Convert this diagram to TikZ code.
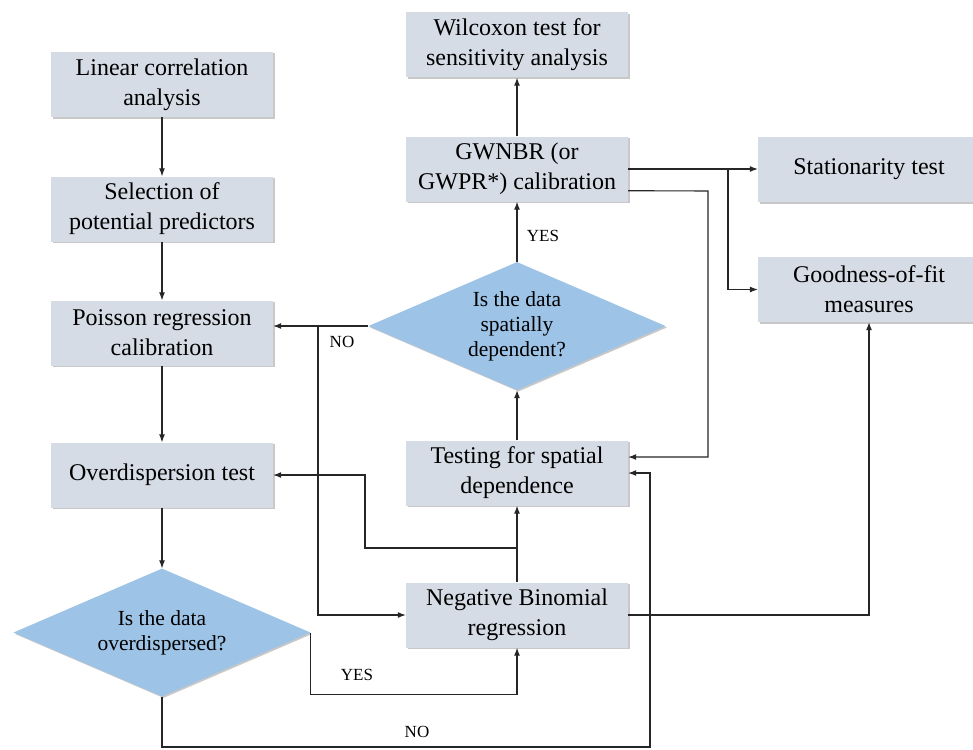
\documentclass[tikz,border=0pt]{standalone}
\usepackage{fontspec}
\setmainfont{Liberation Serif}
\usetikzlibrary{arrows.meta,shapes.geometric,shadows,calc}
\definecolor{boxfill}{HTML}{D6DCE5}
\definecolor{diafill}{HTML}{9DC3E6}
\begin{document}
\begin{tikzpicture}[x=1pt,y=-1pt,
  shad/.style={drop shadow={shadow xshift=1.5pt,shadow yshift=-1.5pt,opacity=0.3,fill=black!70}},
  box/.style={fill=boxfill,minimum width=222pt,minimum height=65pt,inner sep=0pt,
    align=center,font=\fontsize{24}{30}\selectfont,shad},
  dia/.style={diamond,aspect=2.32,fill=diafill,minimum width=297pt,minimum height=128pt,
    inner sep=0pt,align=center,font=\fontsize{21.5}{25}\selectfont,shad},
  conn/.style={line width=1.1pt,draw=black!85},
  arr/.style={conn,-{Latex[length=8pt,width=6pt]}},
  lbl/.style={font=\fontsize{17}{20}\selectfont,inner sep=0pt}]
\useasboundingbox (0,0) rectangle (973,749);
\fill[white] (0,0) rectangle (973,749);

% left column
\node[box] (lin) at (162,84.5) {Linear correlation\\analysis};
\node[box] (sel) at (162,209) {Selection of\\potential predictors};
\node[box] (poi) at (162,333) {Poisson regression\\calibration};
\node[box] (ovt) at (162,475) {Overdispersion test};
\node[dia] (ovd) at (162,632.5) {Is the data\\overdispersed?};

% middle column
\node[box] (wil) at (517,45) {Wilcoxon test for\\sensitivity analysis};
\node[box] (gwn) at (517,169) {GWNBR (or\\GWPR*) calibration};
\node[dia] (spd) at (517,326) {Is the data\\spatially\\dependent?};
\node[box] (tst) at (517,473) {Testing for spatial\\dependence};
\node[box] (nbr) at (517,615) {Negative Binomial\\regression};

% right column
\node[box] (sta) at (869,169.5) {Stationarity test};
\node[box] (gof) at (869,289.5) {Goodness-of-fit\\measures};

% connectors
\draw[arr] (lin) -- (sel);
\draw[arr] (sel) -- (poi);
\draw[arr] (poi) -- (ovt);
\draw[arr] (ovt) -- (ovd);
\draw[arr] (gwn) -- (wil);
\draw[arr] (spd) -- (gwn);
\node[lbl] (yes1) at (543,236) {YES};
\draw[arr] (tst) -- (spd);
\draw[arr] (nbr) -- (tst);

\coordinate (j1) at (517,548);
\draw[arr] (j1) -- (365,548) |- (ovt.east);

\draw[arr] (spd.west) -- (poi.east |- spd.west);
\node[lbl] (no1) at (342,342) {NO};
\coordinate (j2) at (318,326);
\draw[arr] (j2) |- (nbr.west);

\draw[arr] (ovd.east) -- ++(0,62) -| (nbr.south);
\node[lbl] (yes2) at (357,675) {YES};

\draw[arr] (ovd.south) |- (650,747) |- (tst.east);
\node[lbl] (no2) at (417,732) {NO};

\draw[arr] ($(gwn.south east)+(0,-11)$) -- (708,191) |- ($(tst.east)+(0,-16)$);

\draw[arr] (gwn.east) -- (sta.west |- gwn.east);
\coordinate (j3) at (728,169);
\draw[arr] (j3) |- (gof.west);

\draw[arr] (nbr.east) -| (gof.south);
\end{tikzpicture}
\end{document}
